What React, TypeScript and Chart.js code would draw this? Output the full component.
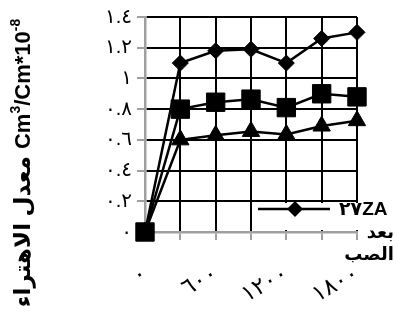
import React, { useEffect, useRef } from 'react';
import { Chart, registerables } from 'chart.js';

Chart.register(...registerables);

// ---- data ----
const categories = ['٠', '٣٠٠', '٦٠٠', '٩٠٠', '١٢٠٠', '١٥٠٠', '١٨٠٠'];
const seriesZA = [0, 1.1, 1.18, 1.19, 1.1, 1.26, 1.3];
const seriesSquares = [0, 0.8, 0.845, 0.865, 0.81, 0.9, 0.88];
const seriesTriangles = [0, 0.6, 0.63, 0.655, 0.635, 0.69, 0.725];
const yTickLabels = ['٠', '٠.٢', '٠.٤', '٠.٦', '٠.٨', '١', '١.٢', '١.٤'];
const yTitleArabic = 'معدل الاهتراء';
const yTitleUnits = ['Cm', '3', '/Cm*10', '-8'];
const legendLabel = '٢٧ZA';
const legendExtra = ['بعد', 'الصب'];

const GRAY = '#a0a0a0';
const FONT = '"Liberation Sans", Arial, "DejaVu Sans", sans-serif';

const spacingPlugin = {
  id: 'tickSpacing',
  beforeDraw(chart: any) {
    (chart.ctx as any).letterSpacing = '2.5px';
  },
  beforeDatasetsDraw(chart: any) {
    (chart.ctx as any).letterSpacing = '0px';
  },
};

const titlePlugin = {
  id: 'yTitle',
  afterDraw(chart: any) {
    const ctx = chart.ctx;
    (ctx as any).letterSpacing = '0px';
    const arab = `bold 23px ${FONT}`;
    const main = `bold 22px ${FONT}`;
    const sup = `bold 14px ${FONT}`;
    const pieces = [
      { t: yTitleArabic, f: arab, dy: 0, gap: 7 },
      { t: yTitleUnits[0], f: main, dy: 0, gap: 0 },
      { t: yTitleUnits[1], f: sup, dy: -10, gap: 0 },
      { t: yTitleUnits[2], f: main, dy: 0, gap: 0 },
      { t: yTitleUnits[3], f: sup, dy: -10, gap: 0 },
    ];
    ctx.save();
    let total = 0;
    const widths = pieces.map((p) => {
      ctx.font = p.f;
      const w = ctx.measureText(p.t).width;
      total += w + p.gap;
      return w;
    });
    ctx.translate(30, 163);
    ctx.rotate(-Math.PI / 2);
    ctx.fillStyle = '#000';
    ctx.textBaseline = 'alphabetic';
    ctx.textAlign = 'left';
    let x = -total / 2;
    pieces.forEach((p, i) => {
      ctx.font = p.f;
      ctx.fillText(p.t, x, p.dy);
      x += widths[i] + p.gap;
    });
    ctx.restore();
  },
};

const legendPlugin = {
  id: 'customLegend',
  afterDraw(chart: any) {
    const ctx = chart.ctx;
    const a = chart.chartArea;
    ctx.save();
    ctx.fillStyle = '#fff';
    ctx.fillRect(a.right - 100, a.bottom - 29, 140, 27);
    const ly = a.bottom - 23;
    ctx.strokeStyle = '#000';
    ctx.lineWidth = 2.5;
    ctx.beginPath();
    ctx.moveTo(a.right - 99, ly);
    ctx.lineTo(a.right - 27, ly);
    ctx.stroke();
    const cx = a.right - 62;
    const r = 8;
    ctx.fillStyle = '#000';
    ctx.beginPath();
    ctx.moveTo(cx - r, ly);
    ctx.lineTo(cx, ly - r);
    ctx.lineTo(cx + r, ly);
    ctx.lineTo(cx, ly + r);
    ctx.closePath();
    ctx.fill();
    ctx.font = `bold 19px ${FONT}`;
    ctx.textBaseline = 'middle';
    ctx.textAlign = 'left';
    ctx.fillText(legendLabel, a.right - 18, ly + 1);
    ctx.font = `bold 18px ${FONT}`;
    ctx.textAlign = 'right';
    ctx.fillText(legendExtra[0], a.right + 37, ly + 24);
    ctx.fillText(legendExtra[1], a.right + 37, ly + 46);
    ctx.restore();
  },
};

export default function App() {
  const ref = useRef<HTMLCanvasElement>(null);
  useEffect(() => {
    if (!ref.current) return;
    const common = {
      borderColor: '#000',
      backgroundColor: '#000',
      pointBackgroundColor: '#000',
      pointBorderColor: '#000',
      borderWidth: 2.5,
      pointBorderWidth: 1,
      tension: 0,
      clip: false as any,
    };
    const chart = new Chart(ref.current, {
      type: 'line',
      data: {
        labels: categories,
        datasets: [
          { ...common, label: legendLabel, data: seriesZA, pointStyle: 'rectRot', pointRadius: 8, order: 1 },
          { ...common, label: 'squares', data: seriesSquares, pointStyle: 'rect', pointRadius: 13, order: 0 },
          { ...common, label: 'triangles', data: seriesTriangles, pointStyle: 'triangle', pointRadius: 10, order: 2 },
        ],
      },
      options: {
        animation: false,
        responsive: false,
        maintainAspectRatio: false,
        events: [],
        layout: { padding: { left: 0, top: 15, right: 39, bottom: 0 }, autoPadding: false },
        plugins: { legend: { display: false }, tooltip: { enabled: false }, title: { display: false } },
        scales: {
          x: {
            grid: {
              color: (c: any) => (c.index === 0 ? GRAY : '#000'),
              tickColor: GRAY,
              lineWidth: 2,
              tickLength: 8,
              tickWidth: 2,
            },
            border: { display: true, color: GRAY, width: 2.5 },
            ticks: {
              autoSkip: false,
              minRotation: 30,
              maxRotation: 30,
              padding: 20,
              color: '#000',
              font: { family: FONT, size: 23 },
              callback: (_v: any, i: number) => (i % 2 === 0 ? categories[i] : ''),
            },
            afterFit: (s: any) => {
              s.height = 92;
            },
          },
          y: {
            min: 0,
            max: 1.4,
            grid: {
              color: (c: any) => (c.index === 0 ? GRAY : '#000'),
              tickColor: GRAY,
              lineWidth: 2,
              tickLength: 8,
              tickWidth: 2,
            },
            border: { display: true, color: GRAY, width: 2.5 },
            ticks: {
              stepSize: 0.2,
              padding: 5,
              color: '#000',
              font: { family: FONT, size: 20 },
              callback: (_v: any, i: number) => yTickLabels[i],
            },
            afterFit: (s: any) => {
              s.width = 145;
            },
          },
        },
      },
      plugins: [spacingPlugin, titlePlugin, legendPlugin],
    });
    return () => chart.destroy();
  }, []);
  return (
    <div style={{ position: 'fixed', left: 0, top: 0, width: 396, height: 324, background: '#fff' }}>
      <canvas ref={ref} width={396} height={324} style={{ width: 396, height: 324 }} />
    </div>
  );
}
